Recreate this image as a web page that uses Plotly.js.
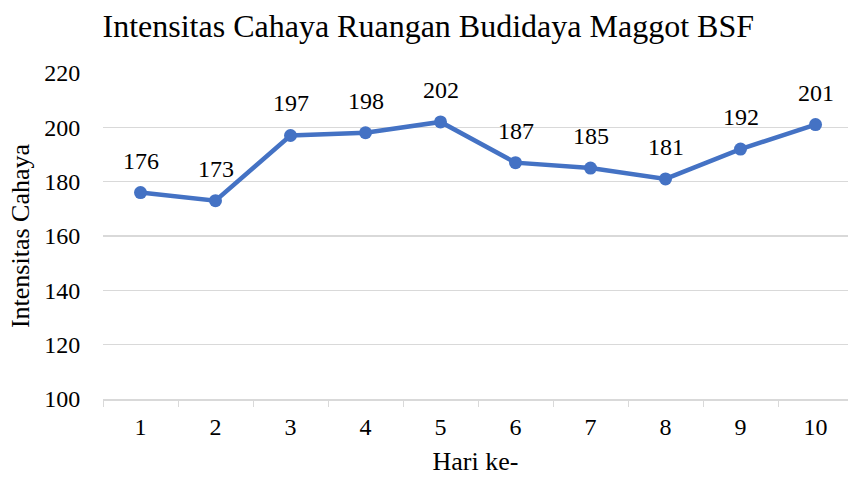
<!DOCTYPE html>
<html>
<head>
<meta charset="utf-8">
<script src="https://cdn.plot.ly/plotly-3.0.1.min.js"></script>
<style>html,body{margin:0;padding:0;background:#fff;}#chart{width:848px;height:477px;}</style>
</head>
<body>
<div id="chart"></div>
<script>
const days = ["1","2","3","4","5","6","7","8","9","10"];
const intensity = [176,173,197,198,202,187,185,181,192,201];
const yTicks = [100,120,140,160,180,200,220];

const FONT = "Liberation Serif";

const trace = {
  x: days,
  y: intensity,
  type: "scatter",
  mode: "lines+markers",
  line: {color: "#4472C4", width: 4.5},
  marker: {color: "#4472C4", size: 13},
  hoverinfo: "skip"
};

const annotations = days.map((d, i) => ({
  x: i, y: intensity[i], xref: "x", yref: "y",
  text: String(intensity[i]), showarrow: false,
  yshift: 32, font: {family: FONT, size: 24, color: "#000"}
}));

const layout = {
  width: 848, height: 477,
  margin: {l: 103, r: 0, t: 73, b: 78},
  paper_bgcolor: "#fff", plot_bgcolor: "#fff",
  showlegend: false,
  font: {family: FONT, color: "#000"},
  title: {text: "Intensitas Cahaya Ruangan Budidaya Maggot BSF",
          font: {family: FONT, size: 32, color: "#000"},
          x: 0.505, xanchor: "center", y: 0.945, yanchor: "middle"},
  xaxis: {
    type: "category", range: [-0.5, 9.433],
    tickson: "boundaries", ticks: "outside", ticklen: 6, tickcolor: "#d9d9d9",
    showgrid: false, showline: true, linecolor: "#d9d9d9", linewidth: 1.5,
    tickfont: {family: FONT, size: 24, color: "#000"},
    ticklabelstandoff: 6,
    title: {text: "Hari ke-", font: {family: FONT, size: 26, color: "#000"}, standoff: 12},
    fixedrange: true
  },
  yaxis: {
    range: [100, 220], tickvals: yTicks, ticktext: yTicks.map(String),
    showgrid: true, gridcolor: "#d9d9d9", gridwidth: 1.5,
    zeroline: false, showline: false,
    ticks: "outside", ticklen: 17, tickcolor: "rgba(0,0,0,0)",
    tickfont: {family: FONT, size: 24, color: "#000"},
    title: {text: "Intensitas Cahaya", font: {family: FONT, size: 26, color: "#000"}, standoff: 7},
    fixedrange: true
  },
  annotations: annotations
};

Plotly.newPlot("chart", [trace], layout, {displayModeBar: false, staticPlot: true});
</script>
</body>
</html>
